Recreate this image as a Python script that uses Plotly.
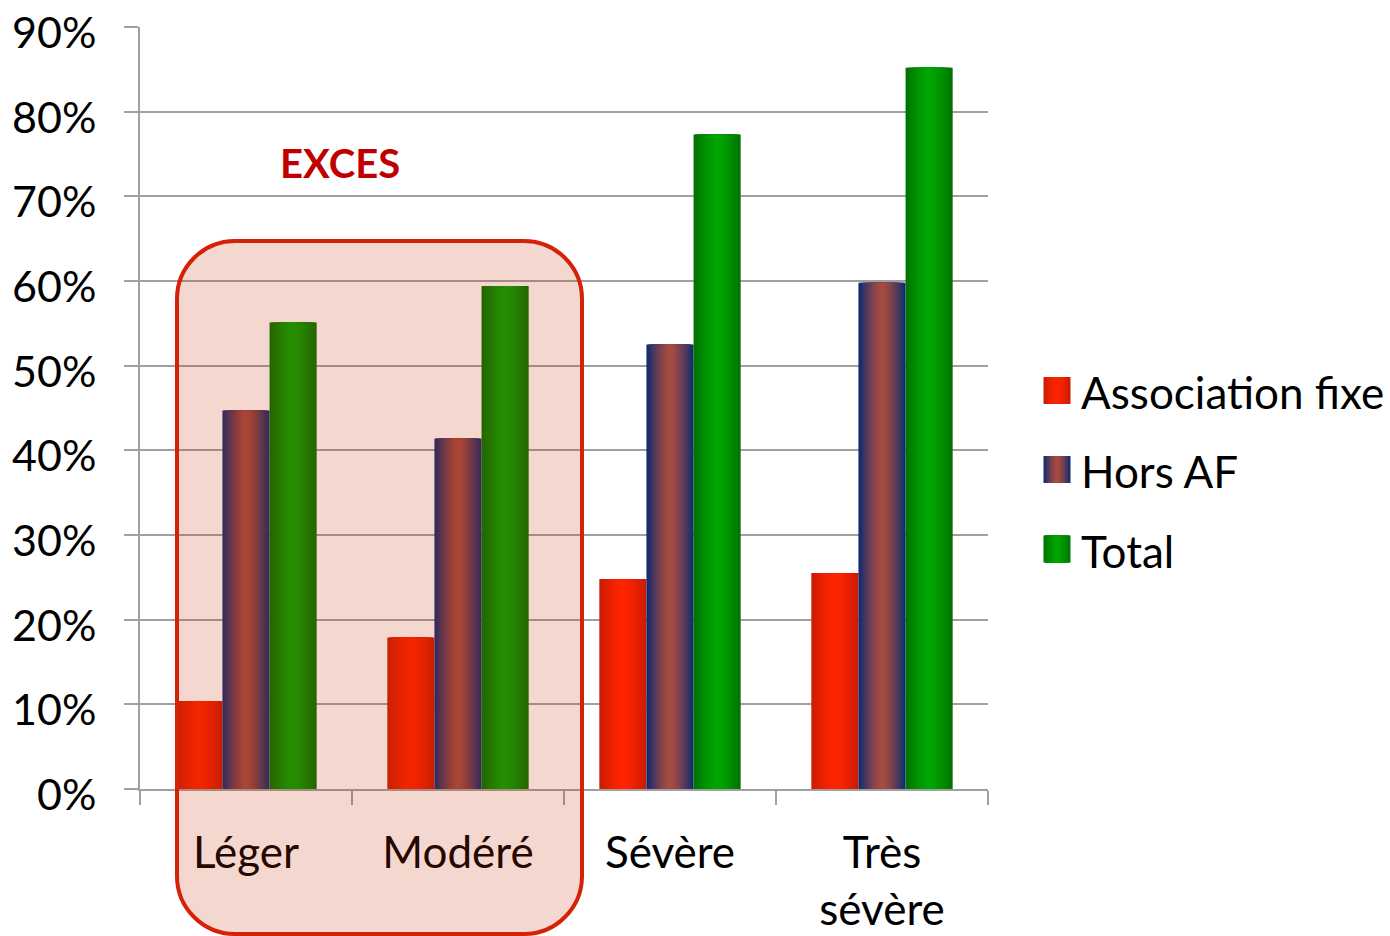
import plotly.graph_objects as go

categories = ["Léger", "Modéré", "Sévère", "Très<br>sévère"]
association_fixe = [0.104, 0.179, 0.248, 0.255]
hors_af = [0.447, 0.414, 0.525, 0.598]
total = [0.551, 0.594, 0.773, 0.852]
series_names = ["Association fixe", "Hors AF", "Total"]
y_ticks = [0, 0.1, 0.2, 0.3, 0.4, 0.5, 0.6, 0.7, 0.8, 0.9]

# (edge colour, centre colour) for the cylinder-like shading
shades = [
    ((200, 28, 5), (255, 36, 0)),
    ((8, 42, 115), (168, 75, 64)),
    ((0, 112, 0), (0, 166, 0)),
]

W, H = 1390, 936
L, R, T, B = 140, 988, 27, 789
FONT = "Lato"
FS = 44
N_LAYERS = 14
BAR_W = 1 / 4.5


def mix(c1, c2, t):
    return "rgb(%d,%d,%d)" % tuple(round(a + (b - a) * t) for a, b in zip(c1, c2))


def px(x):
    return (x - L) / (R - L)


def py(y):
    return (B - y) / (B - T)


def layer_t(k):
    x_band = 1 - (k + 0.5) / N_LAYERS
    return 1 - x_band ** 1.4


fig = go.Figure()

for s, values in enumerate([association_fixe, hors_af, total]):
    edge, centre = shades[s]
    for k in range(N_LAYERS):
        w = BAR_W * (1 - k / N_LAYERS)
        fig.add_trace(
            go.Bar(
                x=categories,
                y=values,
                width=w,
                offset=(s - 1) * BAR_W - w / 2,
                marker=dict(color=mix(edge, centre, layer_t(k)), line=dict(width=0)),
                name=series_names[s],
                showlegend=False,
                hoverinfo="skip" if k else None,
            )
        )

shapes = []

# rounded "EXCES" box
x0, x1, y0, y1, rad = 177, 582, 241, 934, 58
kk = 0.5523 * rad
pts = [
    ("M", [(x0 + rad, y0)]),
    ("L", [(x1 - rad, y0)]),
    ("C", [(x1 - rad + kk, y0), (x1, y0 + rad - kk), (x1, y0 + rad)]),
    ("L", [(x1, y1 - rad)]),
    ("C", [(x1, y1 - rad + kk), (x1 - rad + kk, y1), (x1 - rad, y1)]),
    ("L", [(x0 + rad, y1)]),
    ("C", [(x0 + rad - kk, y1), (x0, y1 - rad + kk), (x0, y1 - rad)]),
    ("L", [(x0, y0 + rad)]),
    ("C", [(x0, y0 + rad - kk), (x0 + rad - kk, y0), (x0 + rad, y0)]),
]
path = ""
for cmd, coords in pts:
    path += cmd + " ".join("%.5f,%.5f" % (px(a), py(b)) for a, b in coords) + " "
path += "Z"
shapes.append(
    dict(
        type="path",
        path=path,
        xref="paper",
        yref="paper",
        fillcolor="rgba(198,45,0,0.19)",
        line=dict(color="rgb(212,34,8)", width=4),
        layer="above",
    )
)

# legend swatches
annotations = []
legend_y = [390.5, 469.5, 549]
for s, name in enumerate(series_names):
    edge, centre = shades[s]
    cy = legend_y[s]
    for k in range(N_LAYERS):
        half = 13.5 * (1 - k / N_LAYERS)
        shapes.append(
            dict(
                type="rect",
                xref="paper",
                yref="paper",
                x0=px(1057 - half),
                x1=px(1057 + half),
                y0=py(cy - 13.5),
                y1=py(cy + 13.5),
                fillcolor=mix(edge, centre, layer_t(k)),
                line=dict(width=0),
                layer="above",
            )
        )
    annotations.append(
        dict(
            text=name,
            xref="paper",
            yref="paper",
            x=px(1079),
            y=py(cy + 2),
            xanchor="left",
            yanchor="middle",
            showarrow=False,
            font=dict(family=FONT, size=FS, color="black"),
        )
    )

annotations.append(
    dict(
        text="<b>EXCES</b>",
        xref="paper",
        yref="paper",
        x=px(340),
        y=py(163),
        xanchor="center",
        yanchor="middle",
        showarrow=False,
        font=dict(family=FONT, size=40, color="#C00000"),
    )
)

fig.update_layout(
    width=W,
    height=H,
    margin=dict(l=L, r=W - R, t=T, b=H - B, pad=0, autoexpand=False),
    paper_bgcolor="white",
    plot_bgcolor="white",
    barmode="overlay",
    showlegend=False,
    font=dict(family=FONT, size=FS, color="black"),
    shapes=shapes,
    annotations=annotations,
)

fig.update_yaxes(
    range=[0, 0.9],
    tickvals=y_ticks,
    tickformat=".0%",
    tickfont=dict(size=43),
    showgrid=True,
    gridcolor="#A0A0A0",
    gridwidth=2,
    showline=True,
    linecolor="#A0A0A0",
    linewidth=2,
    ticks="outside",
    ticklen=14,
    tickwidth=2,
    tickcolor="#A0A0A0",
    ticklabelstandoff=19,
    ticklabelshift=6,
    ticklabeloverflow="allow",
    zeroline=False,
    automargin=False,
)
fig.update_xaxes(
    showline=True,
    linecolor="#A0A0A0",
    linewidth=2,
    ticks="outside",
    tickson="boundaries",
    ticklen=14,
    tickwidth=2,
    tickcolor="#A0A0A0",
    ticklabelstandoff=24,
    ticklabeloverflow="allow",
    showgrid=False,
    automargin=False,
)

fig.write_html(
    "out.html",
    config={"displayModeBar": False},
    post_script="document.body.style.margin = '0';",
)
